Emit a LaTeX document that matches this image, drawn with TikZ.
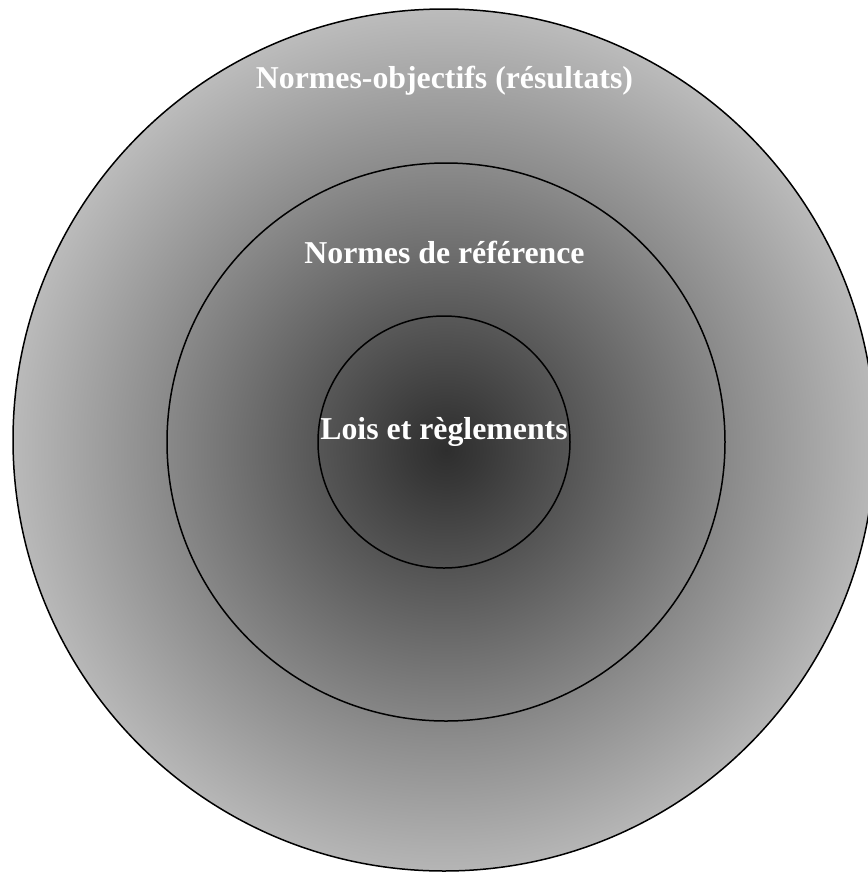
\documentclass[tikz,border=0pt]{standalone}
\usepackage{fontspec}
\setmainfont{Liberation Serif}
\definecolor{g0}{HTML}{2E2E2E}
\definecolor{g1}{HTML}{383838}
\definecolor{g2}{HTML}{575757}
\definecolor{g3}{HTML}{8C8C8C}
\definecolor{g4}{HTML}{BDBDBD}
\pgfdeclareradialshading{ringshade}{\pgfpoint{0bp}{0bp}}{%
  color(0bp)=(g0); color(2bp)=(g1); color(7.3bp)=(g2); color(16.25bp)=(g3); color(25bp)=(g4); color(50bp)=(g4)}
\tikzset{
  ring/.style={draw=black, line width=0.75pt},
  lbl/.style={anchor=base, text=white, inner sep=0pt, font=\bfseries\fontsize{15.9pt}{18pt}\selectfont}
}
\begin{document}
\begin{tikzpicture}[x=0.5pt,y=-0.5pt]
\useasboundingbox (0,0) rectangle (868,874);
\fill[white] (0,0) rectangle (868,874);
\coordinate (oc) at (444,440);
\coordinate (gc) at (446,450);
\begin{scope}
  \clip (oc) circle (431);
  \shade[shading=ringshade] (gc) circle (445);
\end{scope}
\draw[ring] (oc) circle (431);
\draw[ring] (446,442) circle (279);
\draw[ring] (444,442) circle (126);
\node[lbl] (t1) at (444.5,88) {Normes-objectifs (résultats)};
\node[lbl] (t2) at (444.5,263) {Normes de référence};
\node[lbl] (t3) at (444,439) {Lois et règlements};
\end{tikzpicture}
\end{document}
